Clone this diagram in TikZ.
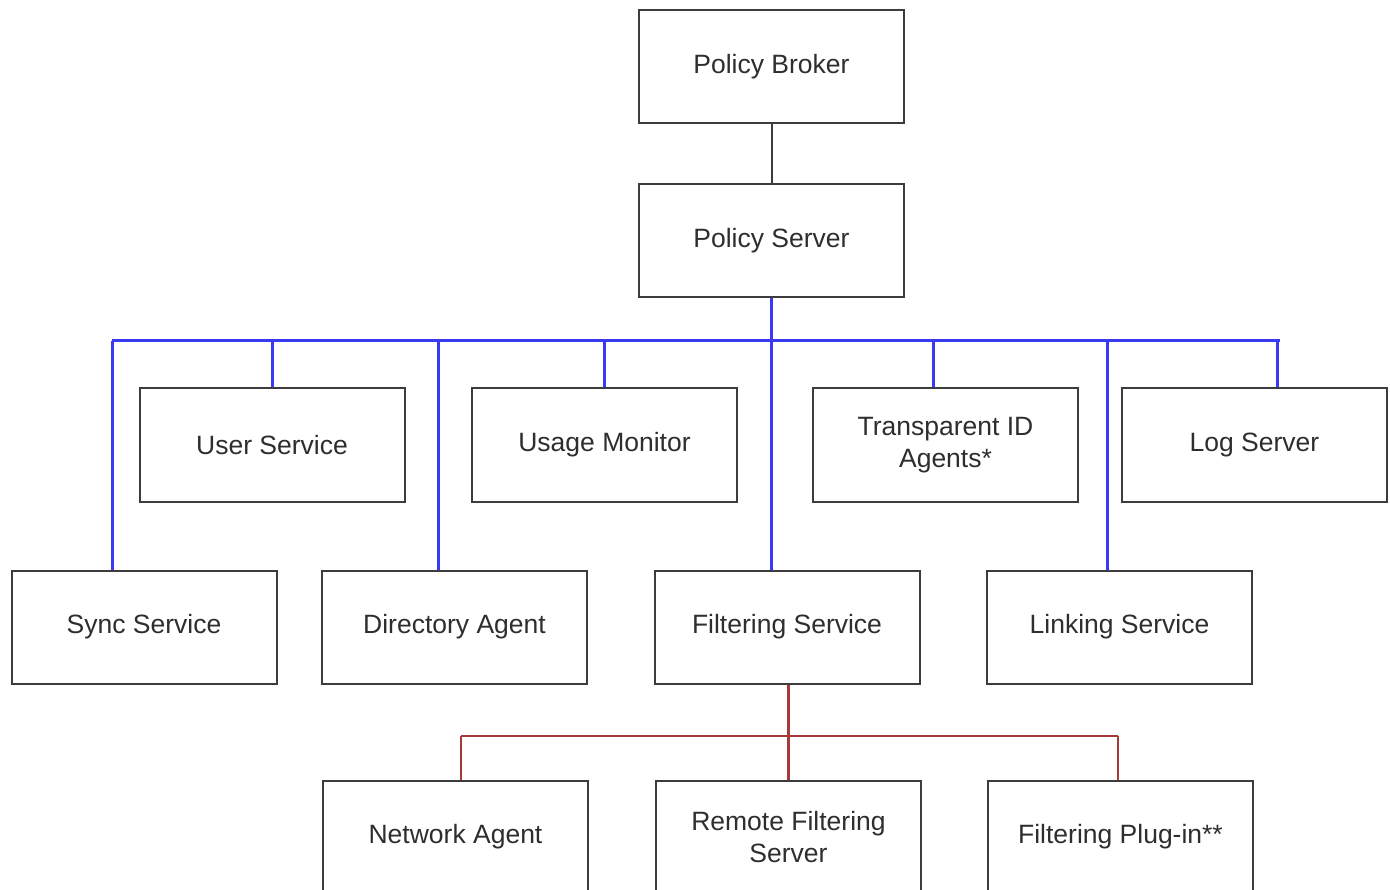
\documentclass[tikz,border=0pt]{standalone}
\usepackage{fontspec}
\setmainfont{Liberation Sans}
\usepackage{xcolor}
\usepackage{tikz}
\usetikzlibrary{positioning}
\definecolor{boxgray}{HTML}{3C3C3C}
\definecolor{textgray}{HTML}{2E2E2E}
\definecolor{busblue}{HTML}{3A3AF5}
\definecolor{busred}{HTML}{A63A3A}

\begin{document}
\begin{tikzpicture}[x=1pt,y=-1pt,
  box/.style={draw=boxgray,line width=2pt,fill=white,minimum width=265pt,minimum height=113pt,
    align=center,text=textgray,font=\fontsize{26.5}{32}\selectfont,inner sep=0pt},
  blueline/.style={busblue,line width=3pt},
  redline/.style={busred,line width=2.7pt}]
\useasboundingbox (0,0) rectangle (1390,890);
% top
\node[box] (broker) at (771.5,67) {Policy Broker};
\node[box] (server) at (771.5,241) {Policy Server};
% first row
\node[box] (user) at (272,445) {User Service};
\node[box] (usage) at (604.5,445) {Usage Monitor};
\node[box] (tid) at (945.5,445) {Transparent ID\\Agents*};
\node[box] (log) at (1254.5,445) {Log Server};
% second row
\node[box] (sync) at (144,627) {Sync Service};
\node[box] (dir) at (454.5,627) {Directory Agent};
\node[box] (filt) at (787,627) {Filtering Service};
\node[box] (link) at (1119.5,627) {Linking Service};
% third row
\node[box] (net) at (455.5,837) {Network Agent};
\node[box] (remote) at (788.5,837) {Remote Filtering\\Server};
\node[box] (plugin) at (1120.5,837) {Filtering Plug-in**};

\draw[boxgray,line width=2pt] (broker) -- (server);

% blue bus
\coordinate (bsync) at (112,341);
\coordinate (bdir) at (438,341);
\coordinate (bserv) at (771,341);
\coordinate (btid) at (933,341);
\coordinate (blink) at (1107,341);
\coordinate (blog) at (1277,341);
\coordinate (bend) at (1280,341);
\draw[blueline] (bsync) -- (bend);
\draw[blueline] (server.south -| bserv) -- (filt.north -| bserv);
\draw[blueline] (bsync) -- (bsync |- sync.north);
\draw[blueline] (bdir) -- (bdir |- dir.north);
\draw[blueline] (blink) -- (blink |- link.north);
\draw[blueline] (user.north) -- (user.north |- bsync);
\draw[blueline] (usage.north) -- (usage.north |- bsync);
\draw[blueline] (btid) -- (btid |- tid.north);
\draw[blueline] (blog) -- (blog |- log.north);

% red bus
\coordinate (rnet) at (461,736);
\coordinate (rplug) at (1118,736);
\draw[redline] (rnet) -- (rplug);
\draw[redline] (filt.south -| remote) -- (remote.north);
\draw[redline] (rnet) -- (rnet |- net.north);
\draw[redline] (rplug) -- (rplug |- plugin.north);
\end{tikzpicture}
\end{document}
